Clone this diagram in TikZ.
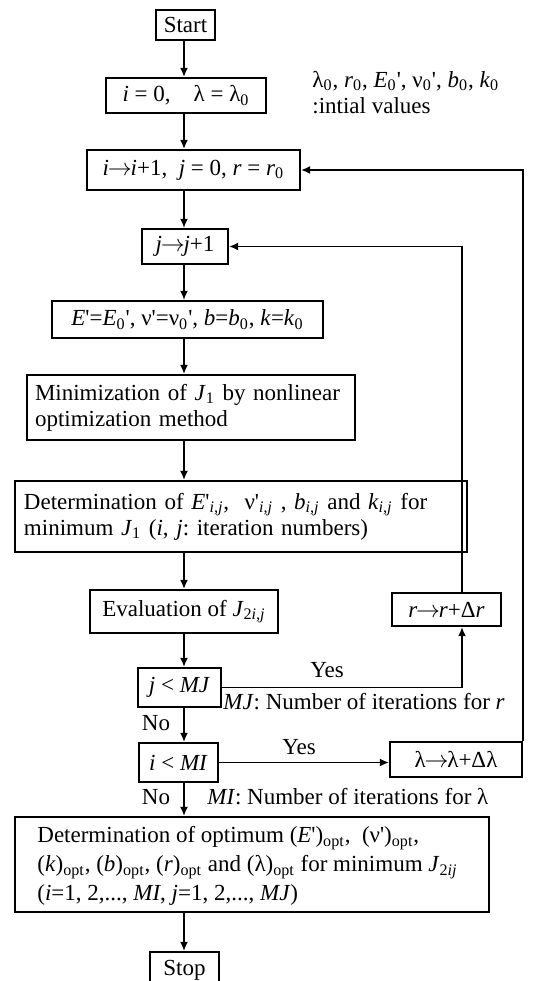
\documentclass[tikz,border=0pt]{standalone}
\usepackage{fontspec}
\setmainfont{Liberation Serif}[Ligatures=TeXOff]
\usetikzlibrary{arrows.meta,calc}
\frenchspacing
\newcommand\subx[1]{\textsubscript{#1}}
\newcommand\itv[1]{\textit{#1}}
\newcommand\arw{\kern-0.6pt$\rightarrow$\kern-0.6pt}
\begin{document}
\begin{tikzpicture}[x=0.5pt,y=-0.5pt,
  every node/.style={font=\fontsize{11.5}{13}\selectfont},
  box/.style={draw,line width=1.1pt,inner sep=0pt},
  lbl/.style={inner sep=0pt},
  arr/.style={line width=0.8pt,-{Latex[length=4.5pt,width=4pt]}}]
\useasboundingbox (0,0) rectangle (536,981);
\coordinate (col) at (184,0);
\coordinate (rx) at (462,0);

\node[box,minimum width=29.5pt,minimum height=15pt] (start) at (185.5,25) {Start};
\node[box,minimum width=80pt,minimum height=17.5pt] (init) at (186,95.5) {\itv{i} = 0,\quad λ = λ\subx{0}};
\node[lbl,anchor=base west] (annot1) at (312,87)
  {λ\subx{0}, \itv{r}\subx{0}, \itv{E}\subx{0}', ν\subx{0}', \itv{b}\subx{0}, \itv{k}\subx{0}};
\node[lbl,anchor=base west] (annot2) at (312,113) {:intial values};
\node[box,minimum width=106.5pt,minimum height=20pt] (iinc) at (193.5,170) {\itv{i}\arw\itv{i}+1,\ \ \itv{j} = 0, \itv{r} = \itv{r}\subx{0}};
\node[box,minimum width=43pt,minimum height=17.5pt] (jinc) at (185,246.5) {\itv{j}\arw\itv{j}+1};
\node[box,minimum width=135.5pt,minimum height=18.5pt] (eset) at (187.5,319.5) {\itv{E}'=\itv{E}\subx{0}', ν'=ν\subx{0}', \itv{b}=\itv{b}\subx{0}, \itv{k}=\itv{k}\subx{0}};
\node[box,minimum width=164pt,minimum height=32.5pt,text width=156pt,inner xsep=4pt,align=left] (minz) at (191,407.5)
  {Minimization of \itv{J}\subx{1} by nonlinear\\optimization method};
\node[box,minimum width=226pt,minimum height=35.5pt,text width=217pt,inner xsep=4.5pt,align=left] (det) at (241,516.5)
  {Determination of \itv{E}'\subx{\itv{i,j}},\ \ ν'\subx{\itv{i,j}} , \itv{b}\subx{\itv{i,j}} and \itv{k}\subx{\itv{i,j}} for\\minimum \itv{J}\subx{1} (\itv{i}, \itv{j}: iteration numbers)};
\node[box,minimum width=94pt,minimum height=21.5pt] (eval) at (184,611.5) {Evaluation of \itv{J}\subx{2\itv{i,j}}};
\node[box,minimum width=54.5pt,minimum height=16.5pt] (rinc) at (446.5,609.5) {\itv{r}\arw\itv{r}+Δ\itv{r}};
\node[box,minimum width=41.5pt,minimum height=19.5pt] (jlt) at (179.5,687.5) {\itv{j} < \itv{MJ}};
\node[box,minimum width=39.5pt,minimum height=19.5pt] (ilt) at (178.5,762.5) {\itv{i} < \itv{MI}};
\node[box,minimum width=66pt,minimum height=17.5pt] (linc) at (456,759.5) {λ\arw λ+Δλ};
\node[box,minimum width=237pt,minimum height=47.5pt] (fin) at (252,864.5) {};
\node[lbl,anchor=west,align=left,font=\fontsize{11.5}{14.5}\selectfont] (fintxt) at (37,866)
  {Determination of optimum (\itv{E}')\subx{opt},\ \ (ν')\subx{opt},\\(\itv{k})\subx{opt}, (\itv{b})\subx{opt}, (\itv{r})\subx{opt} and (λ)\subx{opt} for minimum \itv{J}\subx{2\itv{ij}}\\(\itv{i}=1, 2,..., \itv{MI}, \itv{j}=1, 2,..., \itv{MJ})};
\node[box,minimum width=34.5pt,minimum height=18pt] (stop) at (184.5,970) {Stop};

\node[lbl] (yes1) at (327,670) {Yes};
\node[lbl,anchor=west] (mjlbl) at (223,702) {\itv{MJ}: Number of iterations for \itv{r}};
\node[lbl] (no1) at (156,723) {No};
\node[lbl] (yes2) at (299,747) {Yes};
\node[lbl] (no2) at (156,797) {No};
\node[lbl,anchor=west] (milbl) at (207,797) {\itv{MI}: Number of iterations for λ};

\foreach \a/\b in {start/init,init/iinc,iinc/jinc,jinc/eset,eset/minz,minz/det,det/eval,eval/jlt,jlt/ilt,ilt/fin,fin/stop}
  \draw[arr] (\a.south -| col) -- (\b.north -| col);
\draw[arr] (jlt.east) -| (rinc.south -| rx);
\draw[arr] (rinc.north -| rx) |- (jinc.east);
\draw[arr] (ilt.east) -- (linc.west |- ilt.east);
\draw[arr] (linc.north east) |- (iinc.east);
\end{tikzpicture}
\end{document}
